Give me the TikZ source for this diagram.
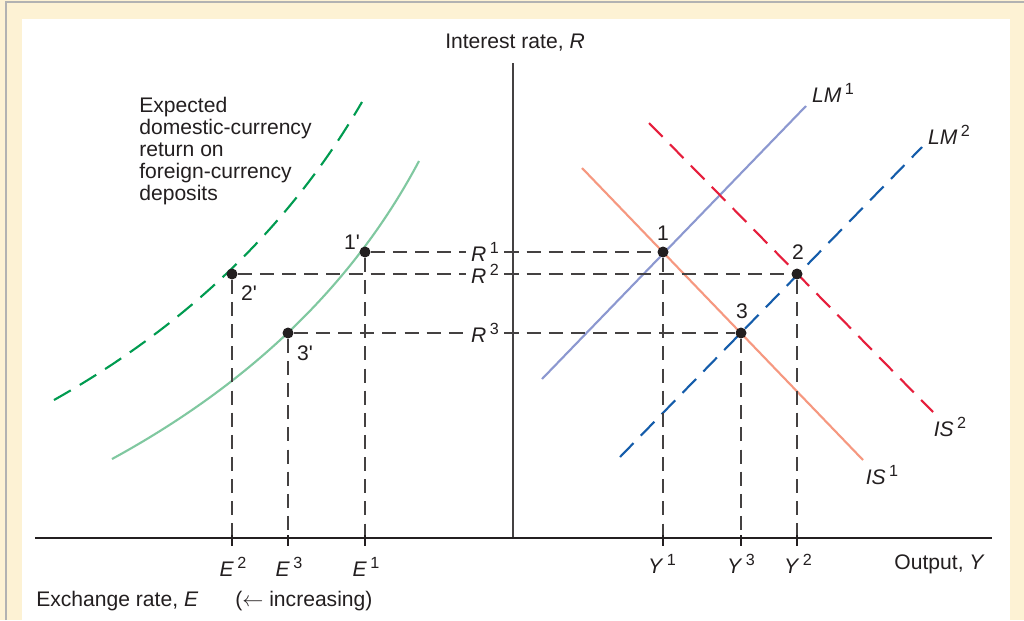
\documentclass[tikz,border=0pt]{standalone}
\usepackage{fontspec}
\setmainfont{Liberation Sans}
\usepackage{xcolor}
\usepackage{tikz}
\usetikzlibrary{positioning}

\definecolor{creambg}{RGB}{253,242,212}
\definecolor{lmone}{RGB}{140,152,208}
\definecolor{lmtwo}{RGB}{20,92,170}
\definecolor{isone}{RGB}{246,152,128}
\definecolor{istwo}{RGB}{230,30,60}
\definecolor{greenlight}{RGB}{128,200,160}
\definecolor{greendark}{RGB}{0,155,80}
\definecolor{inkgray}{RGB}{35,31,32}

\newcommand{\supvar}[2]{\textit{#1}\,\raisebox{0.35em}{\fontsize{9.2}{9.2}\selectfont #2}}
\newcommand{\primed}[1]{#1\textquotesingle}

\begin{document}
\begin{tikzpicture}[
    x=0.02cm, y=-0.02cm,
    font=\fontsize{12}{12.5}\selectfont, text=inkgray,
    dot/.style={circle, fill=inkgray, inner sep=0pt, minimum size=0.22cm},
    guide/.style={draw=inkgray!85, line width=0.75pt, dash pattern=on 8pt off 4.6pt},
    rlabel/.style={inner sep=3pt},
    curve_solid/.style={line width=1.2pt},
    curve_dashed/.style={line width=1.2pt, dash pattern=on 11pt off 6pt},
    axis_tick/.style={draw=inkgray, line width=0.7pt}
]

\useasboundingbox (0,0) rectangle (1024,620);
\fill[creambg] (0,0) rectangle (1024,620);
\draw[black!30, line width=1pt] (6,620) -- (6,2) -- (1024,2);
\fill[white] (22,19) rectangle (1010,620);

\draw[inkgray!85, line width=0.8pt] (513,63) -- (513,538);
\draw[inkgray, line width=1.3pt] (35,538) -- (992,538);

\draw[curve_dashed, greendark] (54,400) .. controls (187,325) and (290,226) .. (362,102);
\draw[curve_solid, greenlight] (112,459) .. controls (253,382) and (355,282) .. (419,161);
\draw[curve_solid, lmone] (542,379) -- (806,106);
\draw[curve_solid, isone] (582,168) -- (863,460);
\draw[curve_dashed, lmtwo] (620,457) -- (922,147);
\draw[curve_dashed, istwo] (649,123) -- (933,412);

\node (lm_one_lbl) at (833,93) {\supvar{LM}{1}};
\node (lm_two_lbl) at (949,135) {\supvar{LM}{2}};
\node (is_one_lbl) at (882,475) {\supvar{IS}{1}};
\node (is_two_lbl) at (950,427) {\supvar{IS}{2}};

\node[dot] (pt_one) at (663,252) {};
\node[dot] (pt_two) at (797,274) {};
\node[dot] (pt_three) at (741,333) {};
\node[dot] (pt_one_p) at (365,252) {};
\node[dot] (pt_two_p) at (232,274) {};
\node[dot] (pt_three_p) at (288,333) {};

\node (n_one) at (663,233) {1};
\node (n_two) at (798,252) {2};
\node (n_three) at (742,311) {3};
\node (n_one_p) at (352,242) {\primed{1}};
\node (n_two_p) at (249,293) {\primed{2}};
\node (n_three_p) at (305,353) {\primed{3}};

\node[rlabel] (r_one) at (485,252) {\supvar{R}{1}};
\node[rlabel] (r_two) at (485,274) {\supvar{R}{2}};
\node[rlabel] (r_three) at (485,333) {\supvar{R}{3}};

\coordinate (e_two) at (232,538);
\coordinate (e_three) at (288,538);
\coordinate (e_one) at (365,538);
\coordinate (y_one) at (663,538);
\coordinate (y_three) at (741,538);
\coordinate (y_two) at (797,538);

\draw[guide] (pt_one_p) -- (r_one);
\draw[guide] (r_one) -- (pt_one);
\draw[guide] (pt_two_p) -- (r_two);
\draw[guide] (r_two) -- (pt_two);
\draw[guide] (pt_three_p) -- (r_three);
\draw[guide] (r_three) -- (pt_three);

\draw[guide] (pt_two_p) -- (e_two);
\draw[guide] (pt_three_p) -- (e_three);
\draw[guide] (pt_one_p) -- (e_one);
\draw[guide] (pt_one) -- (y_one);
\draw[guide] (pt_three) -- (y_three);
\draw[guide] (pt_two) -- (y_two);

\foreach \f in {e_one,e_two,e_three,y_one,y_two,y_three}
    \draw[axis_tick] (\f) ++(0,-3) -- ++(0,11);

\node (e_two_lbl) at (233,567) {\supvar{E}{2}};
\node (e_three_lbl) at (289,567) {\supvar{E}{3}};
\node (e_one_lbl) at (366,567) {\supvar{E}{1}};
\node (y_one_lbl) at (662,564) {\supvar{Y}{1}};
\node (y_three_lbl) at (741,564) {\supvar{Y}{3}};
\node (y_two_lbl) at (798,564) {\supvar{Y}{2}};

\node (r_axis_lbl) at (515,43) {Interest rate, \textit{R}};
\node[anchor=east] (y_axis_lbl) at (991,564) {Output, \textit{Y}};
\node[anchor=west, inner sep=0pt] (e_axis_lbl) at (36,601) {Exchange rate, \textit{E}};
\node[anchor=west, inner sep=0pt] (e_dir_lbl) at (235,601) {($\leftarrow$ increasing)};

\node[anchor=north west, align=left, inner sep=0pt] (return_lbl) at (139,97)
    {Expected\\domestic-currency\\return on\\foreign-currency\\deposits};

\end{tikzpicture}
\end{document}
